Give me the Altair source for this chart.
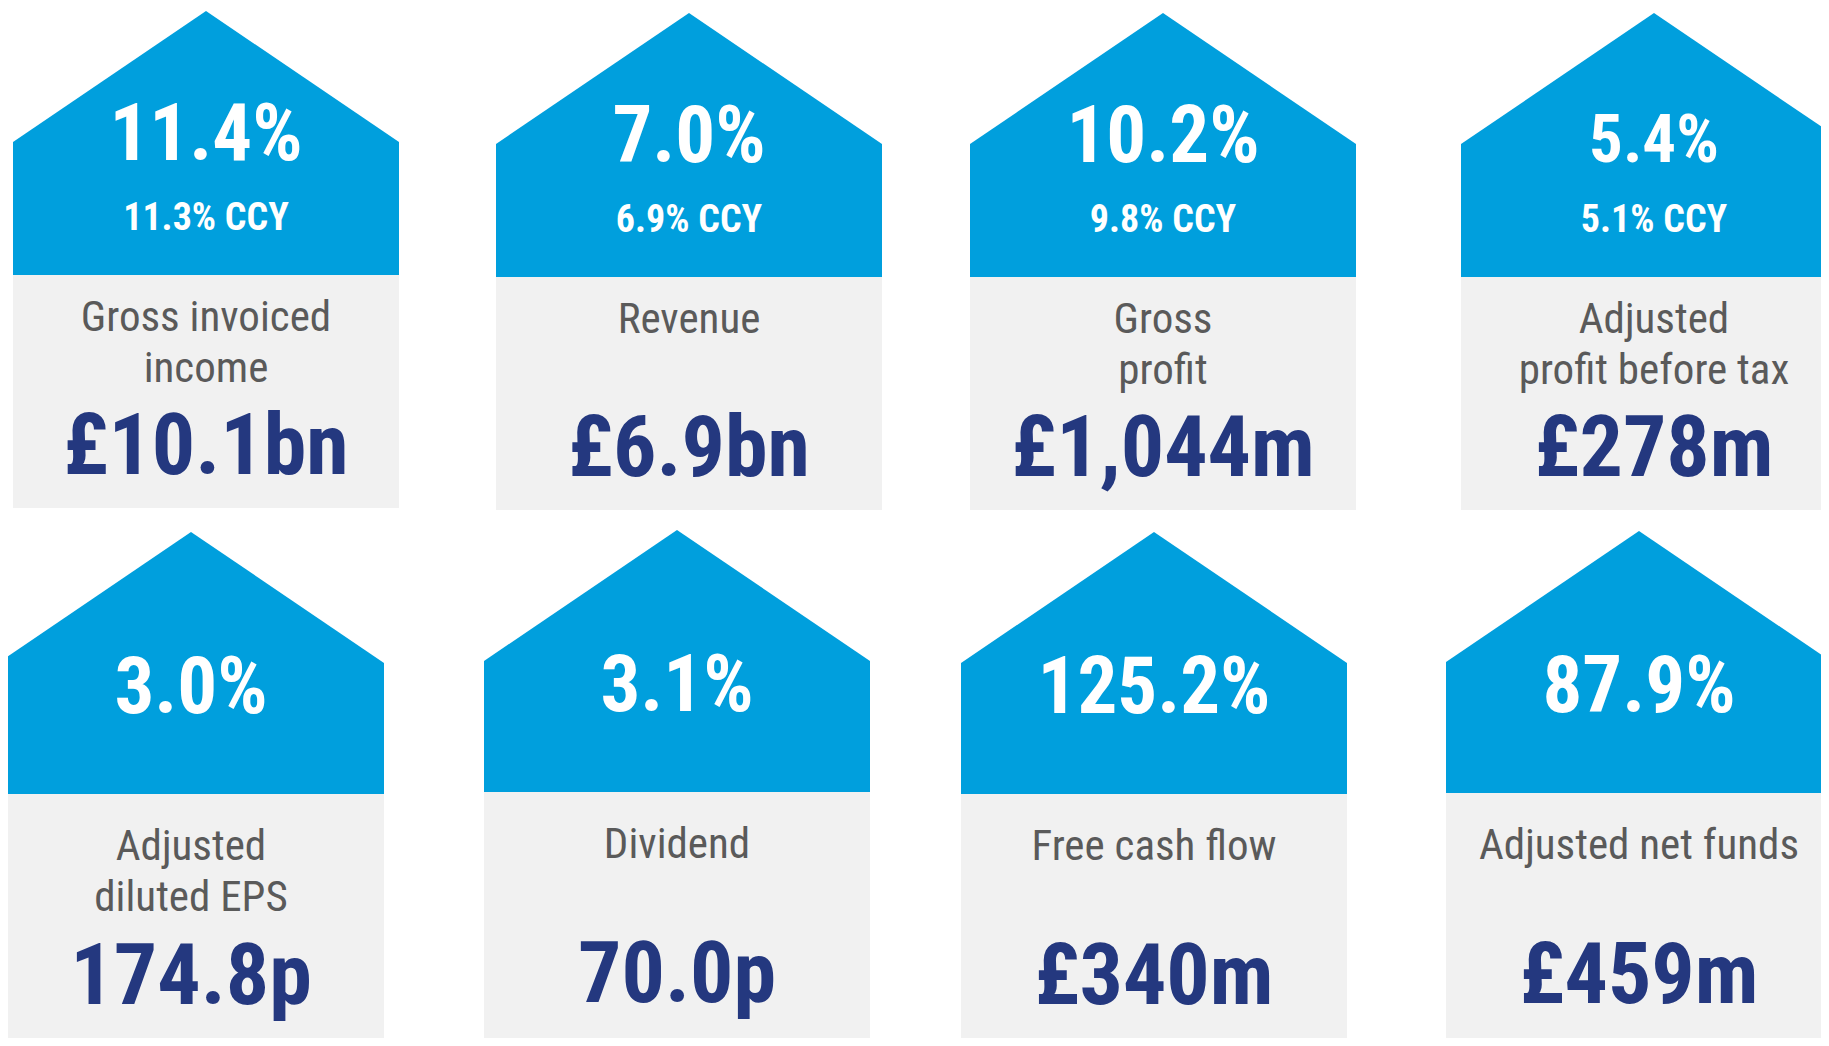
import altair as alt
import pandas as pd

# ---- chart content -------------------------------------------------------
growth = ["11.4%", "7.0%", "10.2%", "5.4%", "3.0%", "3.1%", "125.2%", "87.9%"]
ccy = ["11.3% CCY", "6.9% CCY", "9.8% CCY", "5.1% CCY", "", "", "", ""]
labels = [
    ["Gross invoiced", "income"],
    ["Revenue"],
    ["Gross", "profit"],
    ["Adjusted", "profit before tax"],
    ["Adjusted", "diluted EPS"],
    ["Dividend"],
    ["Free cash flow"],
    ["Adjusted net funds"],
]
values = ["£10.1bn", "£6.9bn", "£1,044m", "£278m", "174.8p", "70.0p", "£340m", "£459m"]

# ---- layout (reference pixel space) --------------------------------------
card_left = [13, 496, 970, 1461, -2, 484, 961, 1446]
card_top = [11, 13, 13, 13, 532, 530, 532, 531]
card_row = [0, 0, 0, 0, 1, 1, 1, 1]
growth_size = [79, 79, 79, 67, 79, 79, 79, 79]
CARD_W = 386
ROOF_H = 131
BLUE_H = [264, 262]
GRAY_BOTTOM = [497, 560]
GROWTH_BASE = [149, 181]
CCY_BASE = 219
LABEL_BASE = [319.5, 328]
LINE_H = 51
VALUE_BASE = [463, 472]

PAGE_W, PAGE_H = 1813, 1030

BLUE = "#009FDD"
GRAY_BG = "#F1F1F1"
NAVY = "#24387F"
LABEL_GRAY = "#5A5A5A"
FONT = "Roboto Condensed, Open Sans Condensed, DejaVu Sans Condensed, sans-serif"

roof_rows, rect_rows, growth_rows, ccy_rows, label_rows, value_rows = [], [], [], [], [], []
for i in range(len(values)):
    left = card_left[i]
    right = left + CARD_W
    cx = left + CARD_W / 2
    top = card_top[i]
    r = card_row[i]
    shoulder = top + ROOF_H
    blue_bottom = top + BLUE_H[r]
    for px, py in [(left, shoulder), (cx, top), (right, shoulder)]:
        roof_rows.append({"card": i, "x": px, "y": py, "y2": blue_bottom})
    rect_rows.append({"card": i, "x": left, "x2": right, "y": blue_bottom,
                      "y2": top + GRAY_BOTTOM[r]})
    growth_rows.append({"card": i, "x": cx, "y": top + GROWTH_BASE[r],
                        "text": growth[i], "fs": growth_size[i]})
    if ccy[i]:
        ccy_rows.append({"card": i, "x": cx, "y": top + CCY_BASE, "text": ccy[i]})
    for k, line in enumerate(labels[i]):
        label_rows.append({"card": i, "x": cx, "y": top + LABEL_BASE[r] + k * LINE_H,
                           "text": line})
    value_rows.append({"card": i, "x": cx, "y": top + VALUE_BASE[r], "text": values[i]})

xs = alt.Scale(domain=[8, 8 + PAGE_W], nice=False, zero=False)
ys = alt.Scale(domain=[8, 8 + PAGE_H], nice=False, zero=False, reverse=True)

roof = alt.Chart(pd.DataFrame(roof_rows)).mark_area(color=BLUE, clip=True).encode(
    x=alt.X("x:Q", scale=xs, axis=None),
    y=alt.Y("y:Q", scale=ys, axis=None),
    y2="y2:Q",
    detail="card:N",
)

rect = alt.Chart(pd.DataFrame(rect_rows)).mark_rect(color=GRAY_BG, clip=True).encode(
    x=alt.X("x:Q", scale=xs, axis=None),
    x2="x2:Q",
    y=alt.Y("y:Q", scale=ys, axis=None),
    y2="y2:Q",
)

def text_layer(rows, color, size, weight, use_size_field=False):
    enc = dict(
        x=alt.X("x:Q", scale=xs, axis=None),
        y=alt.Y("y:Q", scale=ys, axis=None),
        text="text:N",
    )
    kw = dict(color=color, font=FONT, fontWeight=weight, align="center",
              baseline="alphabetic", clip=True)
    if use_size_field:
        enc["size"] = alt.Size("fs:Q", scale=None, legend=None)
    else:
        kw["fontSize"] = size
    return alt.Chart(pd.DataFrame(rows)).mark_text(**kw).encode(**enc)

growth_t = text_layer(growth_rows, "white", 79, "bold", use_size_field=True)
ccy_t = text_layer(ccy_rows, "white", 38, "bold")
label_t = text_layer(label_rows, LABEL_GRAY, 43, "normal")
value_t = text_layer(value_rows, NAVY, 86, "bold")

chart = alt.layer(roof, rect, growth_t, ccy_t, label_t, value_t).properties(
    width=PAGE_W, height=PAGE_H, padding=0, background="white"
).configure_view(stroke=None)

chart.save("out.html", embed_options={"renderer": "svg", "actions": False})
